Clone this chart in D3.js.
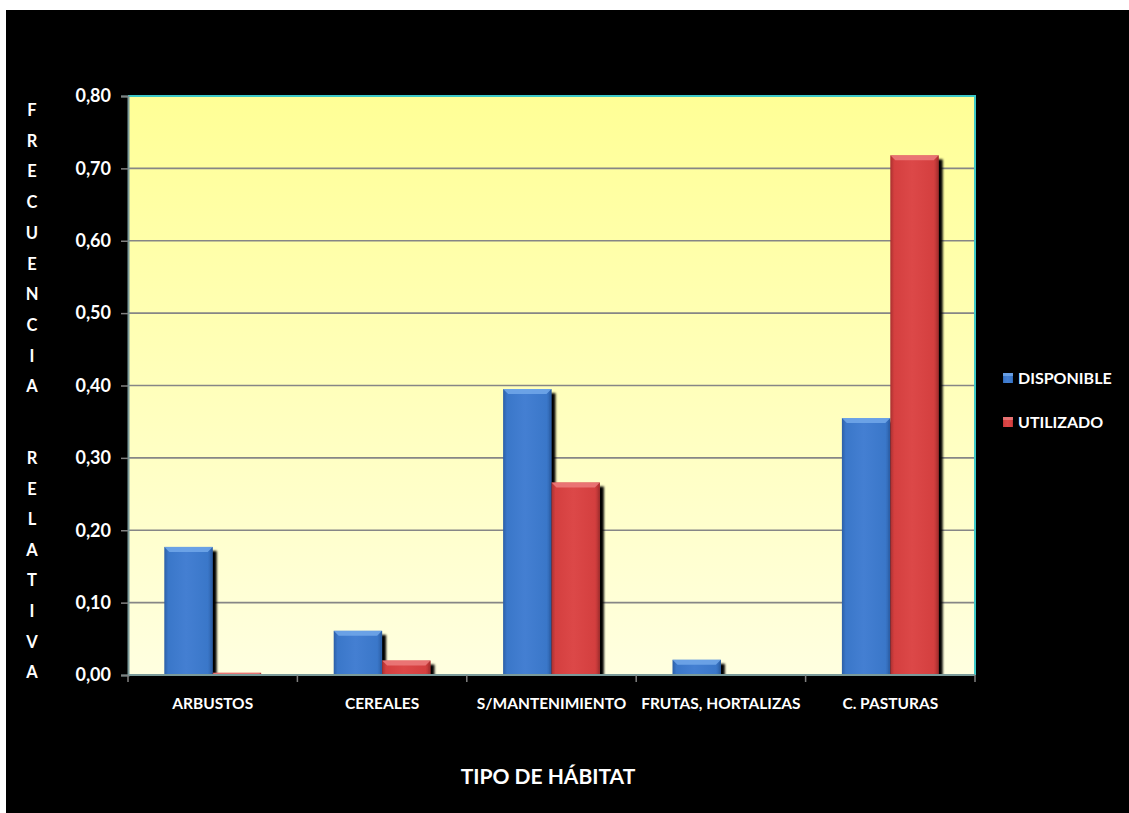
<!DOCTYPE html>
<html>
<head>
<meta charset="utf-8">
<script src="https://cdn.jsdelivr.net/npm/d3@7"></script>
<style>
  html, body { margin: 0; padding: 0; background: #ffffff; }
  svg { display: block; }
  text { font-family: Lato, "Open Sans", sans-serif; font-weight: 700; fill: #ffffff; }
</style>
</head>
<body>
<svg id="chart" width="1129" height="813"></svg>
<script>
// Habitat categories and relative frequencies
const categories = ["ARBUSTOS", "CEREALES", "S/MANTENIMIENTO", "FRUTAS, HORTALIZAS", "C. PASTURAS"];
const seriesNames = ["DISPONIBLE", "UTILIZADO"];
const disponible = [0.177, 0.061, 0.395, 0.021, 0.355];
const utilizado  = [0.003, 0.020, 0.266, 0.000, 0.718];
const yTicks = [0, 0.1, 0.2, 0.3, 0.4, 0.5, 0.6, 0.7, 0.8];
const yTitleTop = ["F", "R", "E", "C", "U", "E", "N", "C", "I", "A"];
const yTitleBottom = ["R", "E", "L", "A", "T", "I", "V", "A"];
const xTitle = "TIPO DE HÁBITAT";

const seriesValues = { DISPONIBLE: disponible, UTILIZADO: utilizado };
const seriesColors = {
  DISPONIBLE: { dark: "#2c5fa6", mid: "#3a77c9", light: "#447fd2", bevel: "#72a8ea" },
  UTILIZADO:  { dark: "#a83030", mid: "#d43f3f", light: "#dc4848", bevel: "#ec7d7d" }
};

const svg = d3.select("#chart");
const plot = { left: 128, right: 975, top: 96, bottom: 675 };

// black chart background
svg.append("rect").attr("x", 6).attr("y", 10).attr("width", 1123).attr("height", 803).attr("fill", "#000");

const defs = svg.append("defs");
const bg = defs.append("linearGradient").attr("id", "plotBg").attr("x1", 0).attr("y1", 0).attr("x2", 0).attr("y2", 1);
bg.append("stop").attr("offset", "0%").attr("stop-color", "#ffff96");
bg.append("stop").attr("offset", "100%").attr("stop-color", "#ffffe0");

seriesNames.forEach((s, i) => {
  const c = seriesColors[s];
  const g = defs.append("linearGradient").attr("id", "bar" + i).attr("x1", 0).attr("y1", 0).attr("x2", 1).attr("y2", 0);
  g.append("stop").attr("offset", "0%").attr("stop-color", c.dark);
  g.append("stop").attr("offset", "8%").attr("stop-color", c.mid);
  g.append("stop").attr("offset", "45%").attr("stop-color", c.light);
  g.append("stop").attr("offset", "90%").attr("stop-color", c.mid);
  g.append("stop").attr("offset", "100%").attr("stop-color", c.dark);
});
const blur = defs.append("filter").attr("id", "shadow").attr("x", "-20%").attr("y", "-20%").attr("width", "140%").attr("height", "140%");
blur.append("feGaussianBlur").attr("stdDeviation", 0.8);

// scales
const y = d3.scaleLinear().domain([0, 0.8]).range([plot.bottom, plot.top]);
const x0 = d3.scaleBand().domain(categories).range([plot.left, plot.right]).padding(0);
const barW = x0.bandwidth() / 3.5;
const x1 = d3.scaleBand().domain(seriesNames).range([0.75 * barW, 2.75 * barW]).padding(0);

// plot area
svg.append("rect").attr("x", plot.left).attr("y", plot.top)
  .attr("width", plot.right - plot.left).attr("height", plot.bottom - plot.top)
  .attr("fill", "url(#plotBg)");

// gridlines
svg.append("g").selectAll("line").data(yTicks.slice(1, -1)).join("line")
  .attr("x1", plot.left).attr("x2", plot.right)
  .attr("y1", d => y(d)).attr("y2", d => y(d))
  .attr("stroke", "#868686").attr("stroke-width", 1.6);

// plot border (top and right)
svg.append("path")
  .attr("d", `M${plot.left},${plot.top}H${plot.right}V${plot.bottom}`)
  .attr("fill", "none").attr("stroke", "#3cc8c8").attr("stroke-width", 2);

// bars
seriesNames.forEach((s, si) => {
  const vals = seriesValues[s];
  const c = seriesColors[s];
  const data = categories.map((cat, i) => ({ cat, v: vals[i] })).filter(d => d.v > 0);
  const g = svg.append("g");
  data.forEach(d => {
    const bx = x0(d.cat) + x1(s);
    const w = x1.bandwidth();
    const top = y(d.v);
    const h = plot.bottom - top;
    // drop shadow
    g.append("rect").attr("x", bx + 4).attr("y", top + Math.min(4, h)).attr("width", w)
      .attr("height", Math.max(0, h - Math.min(4, h)) + 2).attr("fill", "#000").attr("filter", "url(#shadow)");
    // bar body
    g.append("rect").attr("x", bx).attr("y", top).attr("width", w).attr("height", h)
      .attr("fill", `url(#bar${si})`);
    // bevelled top edge
    const b = Math.min(5, h / 2);
    if (h > 2) {
      g.append("path")
        .attr("d", `M${bx},${top}H${bx + w}L${bx + w - b},${top + b}H${bx + b}Z`)
        .attr("fill", c.bevel).attr("opacity", 0.85);
      g.append("path")
        .attr("d", `M${bx + w},${top}V${top + h}H${bx + w - 2}V${top + b}Z`)
        .attr("fill", c.dark).attr("opacity", 0.6);
    }
  });
});

// axes
const fmt = d3.formatLocale({ decimal: ",", thousands: ".", grouping: [3], currency: ["", ""] }).format(".2f");
const yAxis = svg.append("g").attr("transform", `translate(${plot.left},0)`)
  .call(d3.axisLeft(y).tickValues(yTicks).tickFormat(fmt).tickSize(7).tickPadding(10));
yAxis.select(".domain").attr("stroke", "#7a9a9a").attr("stroke-width", 2);
yAxis.selectAll(".tick line").attr("stroke", "#808080").attr("stroke-width", 1.5);
yAxis.selectAll(".tick text").attr("font-size", 18).attr("fill", "#fff")
  .style("font-family", "Lato, sans-serif").style("font-weight", 700);

// category axis with ticks on boundaries
const xb = svg.append("g");
xb.append("line").attr("x1", plot.left).attr("x2", plot.right).attr("y1", plot.bottom).attr("y2", plot.bottom)
  .attr("stroke", "#7a9a9a").attr("stroke-width", 2);
const bounds = categories.map(c => x0(c)).concat([plot.right]);
xb.selectAll("line.tk").data(bounds).join("line").attr("class", "tk")
  .attr("x1", d => d).attr("x2", d => d).attr("y1", plot.bottom).attr("y2", plot.bottom + 7)
  .attr("stroke", "#808080").attr("stroke-width", 1.5);
xb.selectAll("text").data(categories).join("text")
  .attr("x", d => x0(d) + x0.bandwidth() / 2).attr("y", 709)
  .attr("text-anchor", "middle").attr("font-size", 15.5).text(d => d);

// axis titles
svg.append("text").attr("x", 548).attr("y", 784).attr("text-anchor", "middle")
  .attr("font-size", 21).text(xTitle);
svg.append("g").selectAll("text").data(yTitleTop).join("text")
  .attr("x", 32).attr("y", (d, i) => 110 + i * 30.7 + 6)
  .attr("text-anchor", "middle").attr("font-size", 16.5).text(d => d);
svg.append("g").selectAll("text").data(yTitleBottom).join("text")
  .attr("x", 32).attr("y", (d, i) => 458 + i * 30.6 + 6)
  .attr("text-anchor", "middle").attr("font-size", 16.5).text(d => d);

// legend
const legend = svg.append("g").selectAll("g").data(seriesNames).join("g")
  .attr("transform", (d, i) => `translate(1003,${373 + i * 44})`);
legend.append("rect").attr("width", 10).attr("height", 10).attr("fill", (d, i) => `url(#bar${i})`);
legend.append("rect").attr("width", 10).attr("height", 3).attr("fill", d => seriesColors[d].bevel).attr("opacity", 0.8);
legend.append("text").attr("x", 15).attr("y", 11).attr("font-size", 16).text(d => d);
</script>
</body>
</html>
